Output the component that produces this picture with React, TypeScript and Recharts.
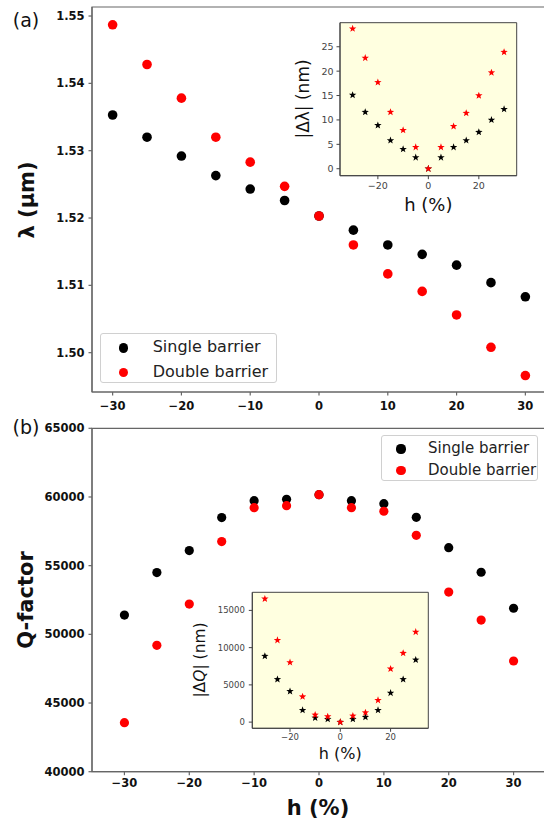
import React from 'react'
import { ScatterChart, Scatter, XAxis, YAxis, CartesianGrid, ReferenceArea } from 'recharts'

// strain h (%) for every series
const hVals = [-30, -25, -20, -15, -10, -5, 0, 5, 10, 15, 20, 25, 30]

// panel (a): resonance wavelength (µm)
const lambdaSingle = [1.5353, 1.532, 1.5292, 1.5263, 1.5243, 1.5226, 1.5203, 1.5182, 1.516, 1.5146, 1.513, 1.5104, 1.5083]
const lambdaDouble = [1.5487, 1.5428, 1.5378, 1.532, 1.5283, 1.5247, 1.5203, 1.516, 1.5117, 1.5091, 1.5056, 1.5008, 1.4966]
// inset (a): |Δλ| (nm)
const dLambdaSingle = [15.1, 11.6, 8.9, 5.8, 4.0, 2.3, 0, 2.3, 4.4, 5.8, 7.5, 10.0, 12.2]
const dLambdaDouble = [28.7, 22.7, 17.7, 11.6, 7.9, 4.4, 0, 4.4, 8.7, 11.4, 15.0, 19.7, 23.9]

// panel (b): Q-factor
const qSingle = [51400, 54500, 56100, 58500, 59730, 59830, 60170, 59730, 59510, 58520, 56310, 54520, 51900]
const qDouble = [43570, 49200, 52200, 56750, 59220, 59370, 60170, 59220, 58960, 57210, 53080, 51040, 48060]
// inset (b): |ΔQ|
const dQSingle = [8860, 5740, 4140, 1600, 570, 400, 0, 400, 670, 1600, 3910, 5740, 8360]
const dQDouble = [16560, 10990, 8010, 3420, 975, 750, 0, 840, 1280, 2940, 7160, 9260, 12100]

const seriesNames = ['Single barrier', 'Double barrier']
const seriesColors = ['#000000', '#ff0000']

const lambdaTicks = [1.5, 1.51, 1.52, 1.53, 1.54, 1.55]
const hTicks = [-30, -20, -10, 0, 10, 20, 30]
const qTicks = [40000, 45000, 50000, 55000, 60000, 65000]
const insetHTicks = [-20, 0, 20]
const dLambdaTicks = [0, 5, 10, 15, 20, 25]
const dQTicks = [0, 5000, 10000, 15000]

const FONT = '"DejaVu Sans", sans-serif'
const pts = (arr: number[]) => hVals.map((h, i) => ({ h, v: arr[i] }))
const minus = (s: string) => s.replace('-', '\u2212')

const dot = (color: string, r: number) => (p: any) => <circle cx={p.cx} cy={p.cy} r={r} fill={color} />

const star = (color: string) => (p: any) => {
  const R = 3.9, r = 1.6
  const d: string[] = []
  for (let k = 0; k < 10; k++) {
    const a = -Math.PI / 2 + (k * Math.PI) / 5
    const rad = k % 2 === 0 ? R : r
    d.push(`${p.cx + rad * Math.cos(a)},${p.cy + rad * Math.sin(a)}`)
  }
  return <polygon points={d.join(' ')} fill={color} />
}

const Txt = ({ x, y, size, bold, rotate, children }: any) => (
  <div style={{
    position: 'absolute', left: x, top: y, whiteSpace: 'nowrap', fontSize: size,
    fontWeight: bold ? 'bold' : 'normal', color: '#111', lineHeight: 1,
    transform: `translate(-50%, -50%)${rotate ? ' rotate(-90deg)' : ''}`,
  }}>{children}</div>
)

const LegendBox = ({ left, top, width, rowGap, firstRow, markerX, textX, size, r }: any) => (
  <div style={{
    position: 'absolute', left, top, width, height: firstRow * 2 + rowGap - 2, background: 'rgba(255,255,255,0.85)',
    border: '1px solid #d0d0d0', borderRadius: 3, boxSizing: 'border-box',
  }}>
    {seriesNames.map((n, i) => (
      <div key={n} style={{ position: 'absolute', left: 0, top: firstRow + i * rowGap, width: '100%' }}>
        <span style={{
          position: 'absolute', left: markerX - r, top: -r, width: 2 * r, height: 2 * r,
          borderRadius: '50%', background: seriesColors[i],
        }} />
        <span style={{ position: 'absolute', left: textX, top: -size * 0.6, fontSize: size, color: '#222', lineHeight: 1.15, whiteSpace: 'nowrap' }}>{n}</span>
      </div>
    ))}
  </div>
)

const mainTick = { fontSize: 11.5, fontWeight: 'bold', fill: '#111', fontFamily: FONT }
const insetTick = (s: number) => ({ fontSize: s, fill: '#444', fontFamily: FONT })

export default function App() {
  const spine = '#666'
  const ispine = '#444'
  return (
    <div style={{ position: 'absolute', left: 0, top: 0, width: 544, height: 821, overflow: 'hidden', background: '#fff', fontFamily: FONT }}>
      {/* panel (a) */}
      <div style={{ position: 'absolute', left: 0, top: 0 }}>
        <ScatterChart width={560} height={420} margin={{ top: 7, right: 14, bottom: 2, left: 0 }}>
          <XAxis dataKey="h" type="number" domain={[-33, 33]} ticks={hTicks} interval={0} allowDataOverflow
            tickFormatter={(v) => minus(String(v))} tick={mainTick} height={26} tickSize={3.5} tickMargin={6}
            stroke={spine} strokeWidth={1.2} />
          <YAxis dataKey="v" type="number" domain={[1.49416, 1.55134]} ticks={lambdaTicks} interval={0} allowDataOverflow
            tickFormatter={(v) => v.toFixed(2)} tick={mainTick} width={92} tickSize={3.5} tickMargin={4}
            stroke={spine} strokeWidth={1.2} />
          <ReferenceArea x1={-33} x2={33} y1={1.49416} y2={1.55134} fill="none" stroke={spine} strokeWidth={1.2} />
          <Scatter name={seriesNames[0]} data={pts(lambdaSingle)} shape={dot(seriesColors[0], 4.8)} isAnimationActive={false} />
          <Scatter name={seriesNames[1]} data={pts(lambdaDouble)} shape={dot(seriesColors[1], 4.8)} isAnimationActive={false} />
        </ScatterChart>
      </div>

      {/* inset (a) */}
      <div style={{ position: 'absolute', left: 280, top: 15 }}>
        <ScatterChart width={250} height={205} margin={{ top: 7.7, right: 13.3, bottom: 14.3, left: 0 }}>
          <CartesianGrid fill="#ffffe0" stroke="none" horizontal={false} vertical={false} />
          <XAxis dataKey="h" type="number" domain={[-35, 35]} ticks={insetHTicks} interval={0} allowDataOverflow
            tickFormatter={(v) => minus(String(v))} tick={insetTick(9.5)} height={30} tickSize={3.5} tickMargin={3}
            stroke={ispine} />
          <YAxis dataKey="v" type="number" domain={[-1.43, 29.93]} ticks={dLambdaTicks} interval={0} allowDataOverflow
            tick={insetTick(9.5)} width={60} tickSize={3.5} tickMargin={3} stroke={ispine} />
          <ReferenceArea x1={-35} x2={35} y1={-1.43} y2={29.93} fill="none" stroke={ispine} />
          <Scatter data={pts(dLambdaSingle)} shape={star(seriesColors[0])} isAnimationActive={false} />
          <Scatter data={pts(dLambdaDouble)} shape={star(seriesColors[1])} isAnimationActive={false} />
        </ScatterChart>
      </div>

      {/* panel (b) */}
      <div style={{ position: 'absolute', left: 0, top: 420 }}>
        <ScatterChart width={560} height={401} margin={{ top: 8.3, right: 14, bottom: 23.3, left: 0 }}>
          <XAxis dataKey="h" type="number" domain={[-35, 35]} ticks={hTicks} interval={0} allowDataOverflow
            tickFormatter={(v) => minus(String(v))} tick={mainTick} height={26} tickSize={3.5} tickMargin={3.5}
            stroke={spine} strokeWidth={1.2} />
          <YAxis dataKey="v" type="number" domain={[40000, 65000]} ticks={qTicks} interval={0} allowDataOverflow
            tick={mainTick} width={92} tickSize={3.5} tickMargin={4} stroke={spine} strokeWidth={1.2} />
          <ReferenceArea x1={-35} x2={35} y1={40000} y2={65000} fill="none" stroke={spine} strokeWidth={1.2} />
          <Scatter name={seriesNames[0]} data={pts(qSingle)} shape={dot(seriesColors[0], 4.6)} isAnimationActive={false} />
          <Scatter name={seriesNames[1]} data={pts(qDouble)} shape={dot(seriesColors[1], 4.6)} isAnimationActive={false} />
        </ScatterChart>
      </div>

      {/* inset (b) */}
      <div style={{ position: 'absolute', left: 180, top: 585 }}>
        <ScatterChart width={260} height={165} margin={{ top: 7.3, right: 11.7, bottom: 1.7, left: 0 }}>
          <CartesianGrid fill="#ffffe0" stroke="none" horizontal={false} vertical={false} />
          <XAxis dataKey="h" type="number" domain={[-35, 35]} ticks={insetHTicks} interval={0} allowDataOverflow
            tickFormatter={(v) => minus(String(v))} tick={insetTick(8.5)} height={20} tickSize={3.5} tickMargin={2.5}
            stroke={ispine} />
          <YAxis dataKey="v" type="number" domain={[-830, 17430]} ticks={dQTicks} interval={0} allowDataOverflow
            tick={insetTick(8.5)} width={72.3} tickSize={3.5} tickMargin={4} stroke={ispine} />
          <ReferenceArea x1={-35} x2={35} y1={-830} y2={17430} fill="none" stroke={ispine} />
          <Scatter data={pts(dQSingle)} shape={star(seriesColors[0])} isAnimationActive={false} />
          <Scatter data={pts(dQDouble)} shape={star(seriesColors[1])} isAnimationActive={false} />
        </ScatterChart>
      </div>

      <LegendBox left={100} top={333} width={177} firstRow={14} rowGap={24.3} markerX={22.6} textX={51.7} size={16} r={4.8} />
      <LegendBox left={381} top={435} width={157} firstRow={13} rowGap={21.6} markerX={19} textX={46} size={15} r={4.6} />

      <Txt x={26} y={20} size={19}>(a)</Txt>
      <Txt x={26} y={427} size={19}>(b)</Txt>
      <Txt x={27} y={200} size={21} bold rotate>λ (μm)</Txt>
      <Txt x={26} y={600} size={21} bold rotate>Q-factor</Txt>
      <Txt x={318} y={808} size={21} bold>h (%)</Txt>
      <Txt x={302.5} y={99} size={17} rotate>|Δλ| (nm)</Txt>
      <Txt x={428.3} y={205} size={18}>h (%)</Txt>
      <Txt x={201} y={660} size={15.5} rotate>|Δ<i>Q</i>| (nm)</Txt>
      <Txt x={340.3} y={754} size={16}>h (%)</Txt>
    </div>
  )
}
